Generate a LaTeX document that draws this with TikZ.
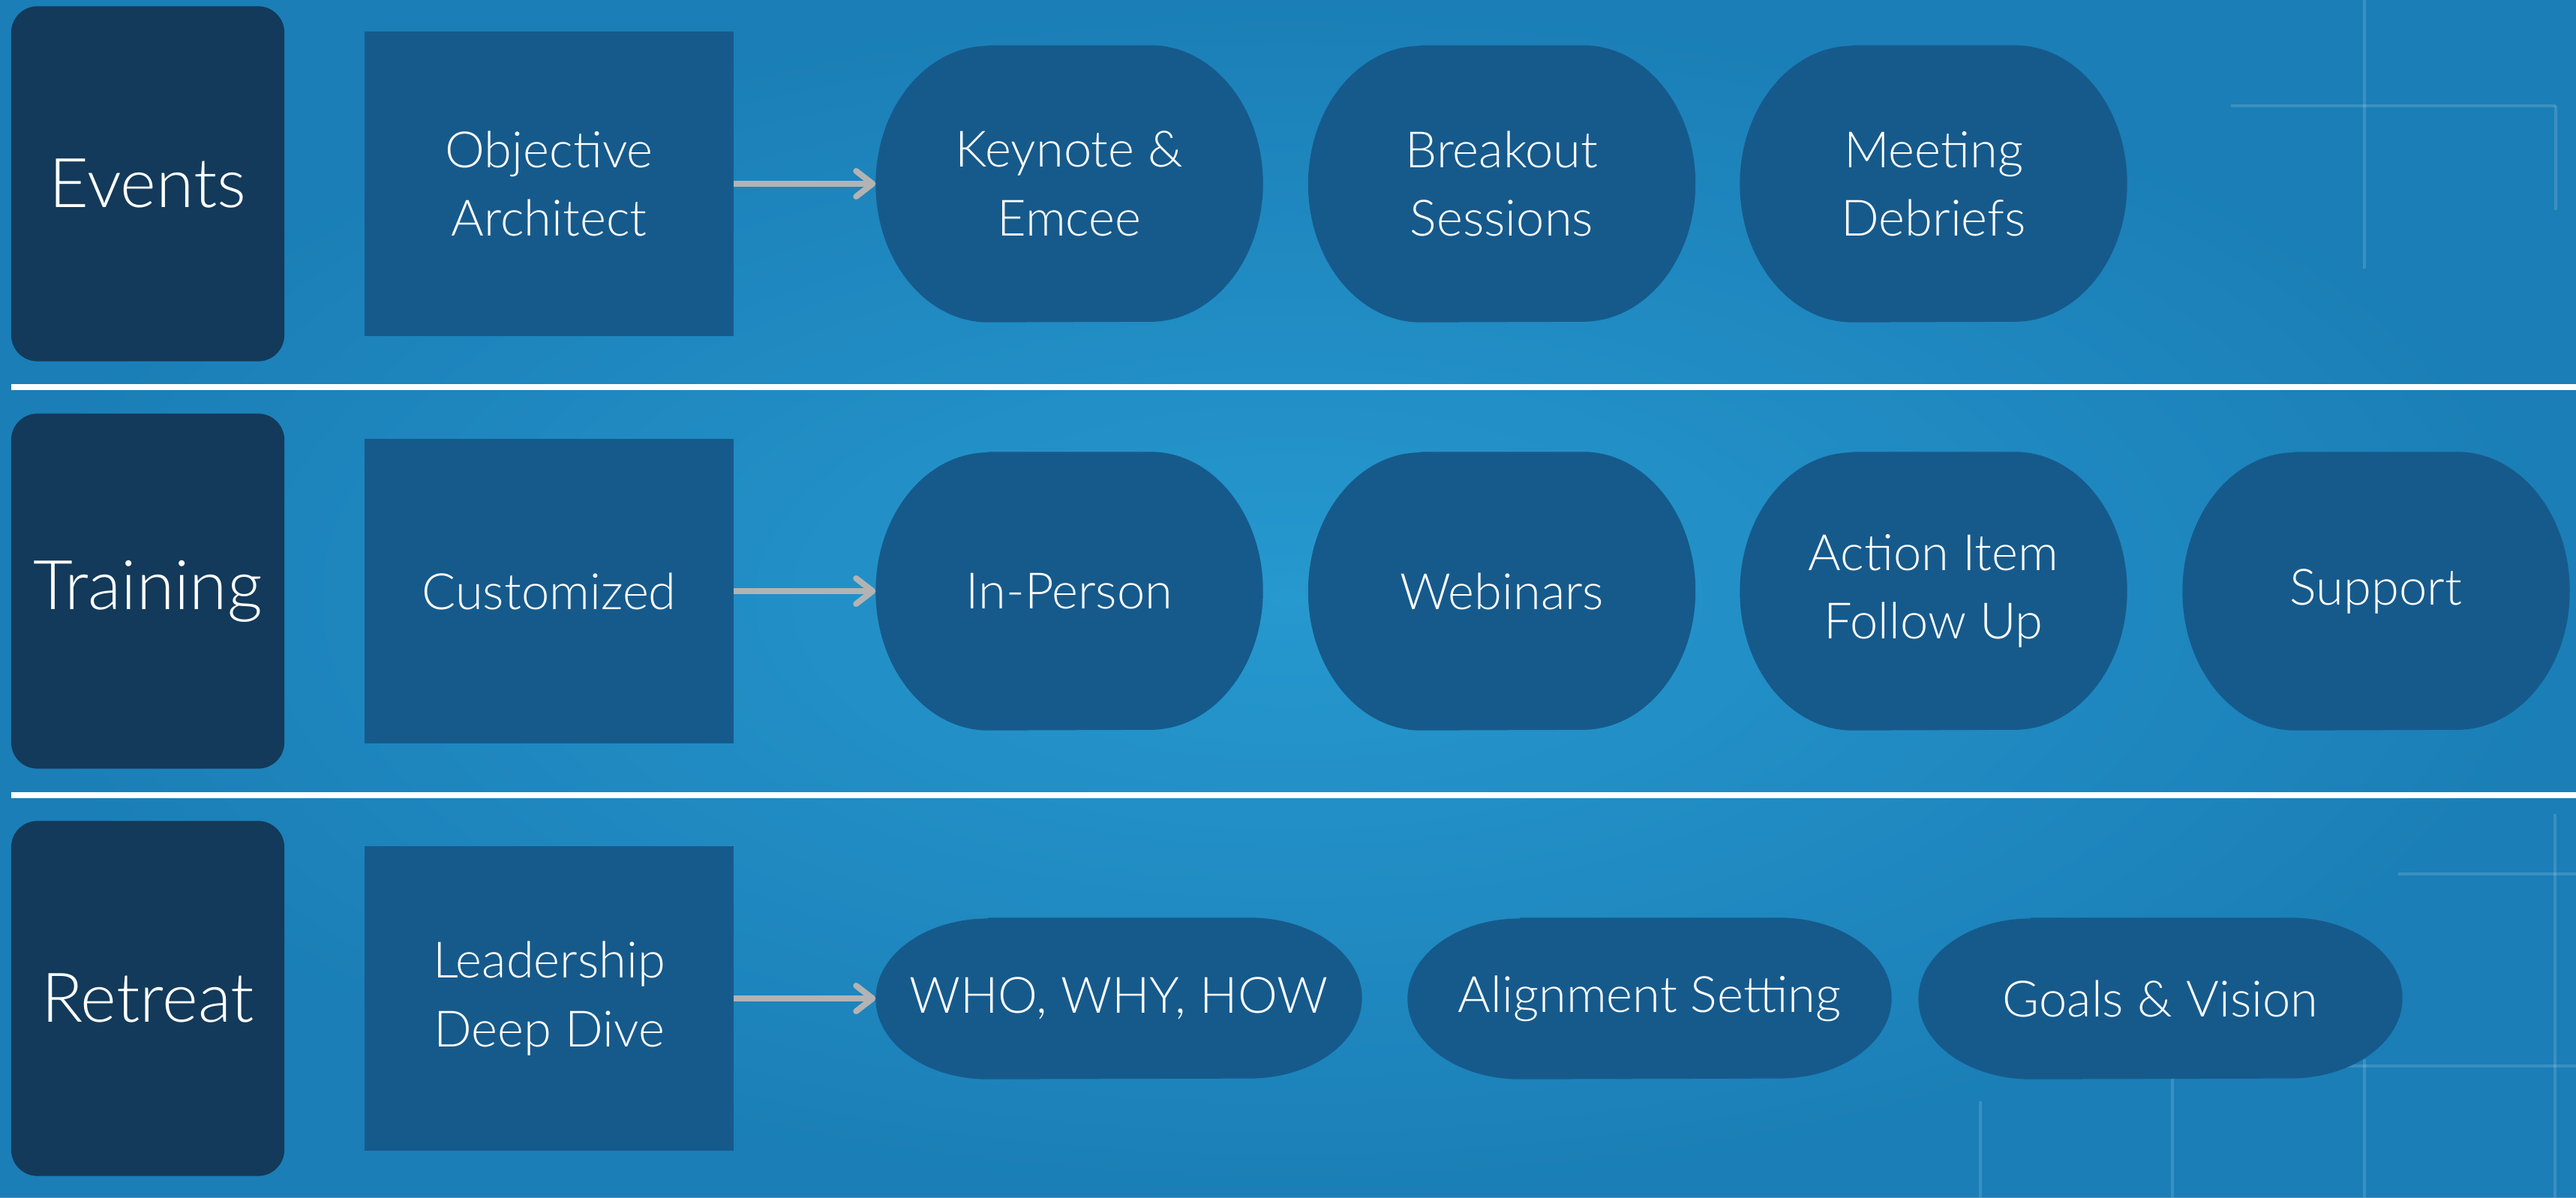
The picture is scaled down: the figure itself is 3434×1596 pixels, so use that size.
\documentclass[tikz,border=0pt]{standalone}
\usepackage{fontspec}
\setmainfont{Lato}[UprightFont=* Light]
\usetikzlibrary{arrows.meta}
\definecolor{bgblue}{HTML}{2699CF}
\definecolor{bgdark}{HTML}{1876AF}
\definecolor{labelbox}{HTML}{133A5A}
\definecolor{stepfill}{HTML}{165A8C}
\definecolor{arrowgray}{HTML}{B3B3B3}
\pgfdeclarelayer{bg}
\pgfdeclarelayer{shapes}
\pgfsetlayers{bg,shapes,main}
\tikzset{
  rowlabel/.style={fill=labelbox, rounded corners=0.35cm, minimum width=3.64cm, minimum height=4.73cm,
    text=white, inner sep=0pt, font=\fontsize{26}{32}\selectfont},
  stepbox/.style={fill=stepfill, minimum width=4.91cm, minimum height=4.05cm, text=white,
    inner sep=0pt, align=center, font=\fontsize{19}{26}\selectfont},
  captext/.style={text=white, inner sep=0pt, align=center, font=\fontsize{19}{26}\selectfont},
  flowarrow/.style={draw=arrowgray, line width=0.08cm, -{Straight Barb[length=0.22cm,width=0.34cm,round]}},
  sepline/.style={draw=white, line width=0.08cm},
  gridline/.style={draw=white, opacity=0.14, line width=0.045cm}
}
% #1 name, #2 cx, #3 cy (from top), #4 width, #5 height, #6 text
\newcommand\capsule[6]{%
  \node[captext, minimum width=#4*0.01cm, minimum height=#5*0.01cm] (#1) at (#2,{1596-#3}) {#6};
  \begin{pgfonlayer}{shapes}
    \fill[stepfill] ([xshift=1.5cm]#1.north west) -- ([xshift=-1.5cm]#1.north east)
      arc[start angle=90, end angle=-90, x radius=1.5cm, y radius=#5*0.005cm]
      -- ([xshift=1.5cm]#1.south west)
      arc[start angle=270, end angle=90, x radius=1.5cm, y radius=#5*0.005cm] -- cycle;
  \end{pgfonlayer}}
\begin{document}
\begin{tikzpicture}[x=0.01cm, y=0.01cm]
\useasboundingbox (0,0) rectangle (3434,1596);
\begin{pgfonlayer}{bg}
  \fill[bgblue] (0,0) rectangle (3434,1596);
  \shade[inner color=bgblue, outer color=bgdark, opacity=0.75] (0,0) rectangle (3434,1596);
  % faint blueprint grid of the background
  \draw[gridline] (3152,1596) -- (3152,1238);
  \draw[gridline] (2974,1455) -- (3407,1455);
  \draw[gridline] (3407,1455) -- (3407,1316);
  \draw[gridline] (2640,128) -- (2640,0);
  \draw[gridline] (2896,158) -- (2896,0);
  \draw[gridline] (3152,184) -- (3152,0);
  \draw[gridline] (3406,511) -- (3406,0);
  \draw[gridline] (3197,431) -- (3434,431);
  \draw[gridline] (3125,175) -- (3434,175);
\end{pgfonlayer}

% separators
\coordinate (s1a) at (15,{1596-516});
\coordinate (s1b) at (3434,{1596-516});
\coordinate (s2a) at (15,{1596-1060});
\coordinate (s2b) at (3434,{1596-1060});
\draw[sepline] (s1a) -- (s1b);
\draw[sepline] (s2a) -- (s2b);

% row labels
\node[rowlabel] (events)   at (197,{1596-245})  {Events};
\node[rowlabel] (training) at (197,{1596-788})  {Training};
\node[rowlabel] (retreat)  at (197,{1596-1331}) {Retreat};

% first steps
\node[stepbox] (objective)  at (732,{1596-245})  {Objective\\Architect};
\node[stepbox] (customized) at (732,{1596-788})  {Customized};
\node[stepbox] (leadership) at (732,{1596-1331}) {Leadership\\Deep Dive};

% row 1
\capsule{keynote}{1425.5}{245}{515}{368}{Keynote \&\\Emcee}
\capsule{breakout}{2002}{245}{515}{368}{Breakout\\Sessions}
\capsule{debriefs}{2577.5}{245}{515}{368}{Meeting\\Debriefs}

% row 2
\capsule{inperson}{1425.5}{788}{515}{370}{In-Person}
\capsule{webinars}{2002}{788}{515}{370}{Webinars}
\capsule{actionitem}{2577.5}{788}{515}{370}{Action Item\\Follow Up}
\capsule{support}{3167.5}{788}{515}{370}{Support}

% row 3
\capsule{whowhy}{1491.5}{1331}{647}{214}{WHO, WHY, HOW}
\capsule{alignment}{2199}{1331}{644}{214}{Alignment Setting}
\capsule{goals}{2880}{1331}{644}{214}{Goals \& Vision}

% arrows
\draw[flowarrow] (objective) -- (keynote);
\draw[flowarrow] (customized) -- (inperson);
\draw[flowarrow] (leadership) -- (whowhy);
\end{tikzpicture}
\end{document}
